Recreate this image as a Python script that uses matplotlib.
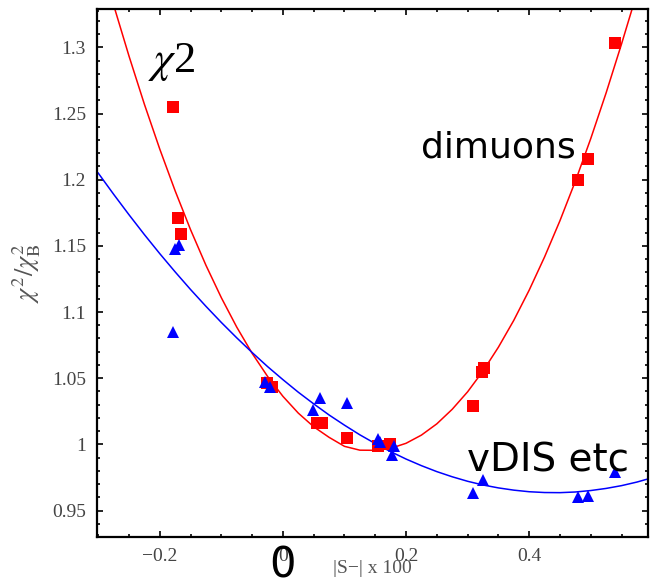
import matplotlib.pyplot as plt
from matplotlib.ticker import MultipleLocator, FixedLocator

dimuon_x = [-0.179, -0.171, -0.165, -0.026, -0.018, 0.055, 0.063, 0.104,
            0.155, 0.174, 0.309, 0.323, 0.327, 0.480, 0.496, 0.540]
dimuon_y = [1.255, 1.171, 1.159, 1.046, 1.043, 1.016, 1.016, 1.005,
            0.999, 1.000, 1.029, 1.055, 1.058, 1.1995, 1.216, 1.303]

dis_x = [-0.175, -0.168, -0.179, -0.029, -0.021, 0.049, 0.060, 0.104, 0.154,
         0.157, 0.177, 0.180, 0.309, 0.325, 0.480, 0.496, 0.540]
dis_y = [1.148, 1.151, 1.085, 1.047, 1.043, 1.026, 1.035, 1.031, 1.004,
         1.0015, 0.992, 0.999, 0.963, 0.973, 0.960, 0.961, 0.979]

# fitted curves
red_fit_x = [-0.275, -0.25, -0.225, -0.2, -0.175, -0.15, -0.125, -0.1, -0.075,
             -0.05, -0.025, 0.0, 0.025, 0.05, 0.075, 0.1, 0.125, 0.15, 0.175,
             0.2, 0.225, 0.25, 0.275, 0.3, 0.325, 0.35, 0.375, 0.4, 0.425,
             0.45, 0.475, 0.5, 0.525, 0.55, 0.575]
red_fit_y = [1.332, 1.2934, 1.257, 1.2231, 1.1915, 1.1622, 1.1353, 1.1108,
             1.0886, 1.0688, 1.0514, 1.0363, 1.0236, 1.0133, 1.0053, 0.9985,
             0.9956, 0.9955, 0.997, 1.0008, 1.007, 1.0155, 1.0265, 1.0397,
             1.0554, 1.0734, 1.0937, 1.1165, 1.1416, 1.169, 1.1988, 1.231,
             1.2656, 1.3025, 1.341]

blue_fit_x = [-0.3, -0.275, -0.25, -0.225, -0.2, -0.175, -0.15, -0.125, -0.1,
              -0.075, -0.05, -0.025, 0.0, 0.025, 0.05, 0.075, 0.1, 0.125,
              0.15, 0.175, 0.2, 0.225, 0.25, 0.275, 0.3, 0.325, 0.35, 0.375,
              0.4, 0.425, 0.45, 0.475, 0.5, 0.525, 0.55, 0.575, 0.6]
blue_fit_y = [1.205, 1.189, 1.1735, 1.1585, 1.1441, 1.1303, 1.117, 1.1043,
              1.0921, 1.0805, 1.0694, 1.0588, 1.0489, 1.0394, 1.0306, 1.0222,
              1.0145, 1.0072, 1.0006, 0.9945, 0.9889, 0.9839, 0.9794, 0.9755,
              0.9721, 0.9693, 0.9671, 0.9654, 0.9642, 0.9636, 0.9635, 0.964,
              0.9651, 0.9667, 0.9688, 0.9715, 0.9748]

xticks = [-0.2, 0, 0.2, 0.4]
xticklabels = ['\u22120.2', '0', '0.2', '0.4']
yticks = [0.95, 1.0, 1.05, 1.1, 1.15, 1.2, 1.25, 1.3]
yticklabels = ['0.95', '1', '1.05', '1.1', '1.15', '1.2', '1.25', '1.3']

plt.rcParams['mathtext.fontset'] = 'stix'

fig = plt.figure(figsize=(6.54, 5.87), dpi=100)
ax = fig.add_axes([0.1483, 0.0852, 0.8425, 0.8995])

ax.plot(red_fit_x, red_fit_y, color='red', lw=1.1)
ax.plot(blue_fit_x, blue_fit_y, color='blue', lw=1.1)
ax.plot(dimuon_x, dimuon_y, 's', color='red', ms=8.5, mew=0)
ax.plot(dis_x, dis_y, '^', color='blue', ms=8, mew=0)

ax.set_xlim(-0.302, 0.593)
ax.set_ylim(0.93, 1.329)

ax.xaxis.set_major_locator(FixedLocator(xticks))
ax.set_xticklabels(xticklabels)
ax.xaxis.set_minor_locator(MultipleLocator(0.05))
ax.yaxis.set_major_locator(FixedLocator(yticks))
ax.set_yticklabels(yticklabels)
ax.yaxis.set_minor_locator(MultipleLocator(0.01))

ax.tick_params(which='both', direction='in', top=True, right=True,
               labeltop=False, labelright=False, width=1.2, color='black')
ax.tick_params(which='major', length=4.5, labelsize=14, labelcolor='#444444', pad=8)
ax.tick_params(which='minor', length=2.5)
for lab in ax.get_xticklabels() + ax.get_yticklabels():
    lab.set_family('Liberation Serif')
for sp in ax.spines.values():
    sp.set_linewidth(1.6)

ax.set_ylabel(r'$\chi^2/\chi^2_{\rm B}$', fontsize=19, color='#555555', labelpad=6)
ax.set_xlabel('|S\u2212| x 100', fontsize=14, color='#555555',
              family='Liberation Serif', labelpad=-4)

# annotations
ax.text(-0.2195, 1.289, r'$\chi$2', fontsize=32, family='Liberation Serif',
        va='center', ha='left')
ax.text(0.2245, 1.2245, 'dimuons', fontsize=26, family='DejaVu Sans',
        va='center', ha='left')
ax.text(0.299, 0.988, 'vDIS etc', fontsize=28, family='DejaVu Sans',
        va='center', ha='left')
fig.text(283 / 654, 1 - 566 / 587, '0', fontsize=30, family='DejaVu Sans',
         va='center', ha='center')

fig.savefig('out.png', dpi=100)
